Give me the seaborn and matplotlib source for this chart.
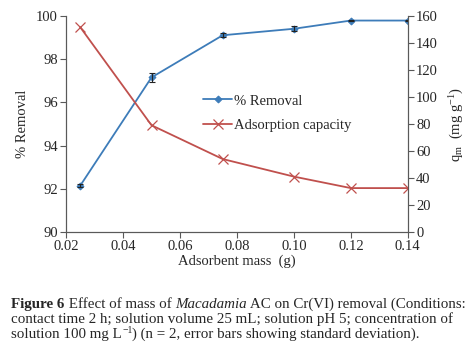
import numpy as np
import pandas as pd
import seaborn as sns
import matplotlib.pyplot as plt

sns.set_style("white")
plt.rcParams['font.family'] = ['Liberation Serif', 'DejaVu Serif']
plt.rcParams['mathtext.fontset'] = 'custom'
plt.rcParams['mathtext.rm'] = 'Liberation Serif'
plt.rcParams['mathtext.it'] = 'Liberation Serif:italic'

# data
mass = [0.025, 0.05, 0.075, 0.10, 0.12, 0.14]
removal = [92.15, 97.15, 99.1, 99.4, 99.78, 99.78]
removal_sd = [0.07, 0.22, 0.09, 0.12, 0.03, 0.03]
capacity = [151.5, 79.0, 54.0, 41.0, 32.5, 32.5]

blue = '#3d7cb9'
red = '#c0504d'
grey = '#595959'

df = pd.DataFrame({'mass': mass, 'removal': removal, 'capacity': capacity})

fig = plt.figure(figsize=(4.72, 3.51), dpi=100)
ax = fig.add_axes([0.140, 0.339, 0.724, 0.616])
ax2 = ax.twinx()

sns.lineplot(data=df, x='mass', y='removal', ax=ax, color=blue, marker='D',
             markersize=3.5, markeredgecolor=blue, lw=1.3, label='% Removal', legend=False)
ax.errorbar(mass, removal, yerr=removal_sd, fmt='none', ecolor='#222222',
            elinewidth=0.8, capsize=2.5, capthick=0.8, zorder=5)
sns.lineplot(data=df, x='mass', y='capacity', ax=ax2, color=red, marker='x',
             markersize=7, markeredgecolor=red, markeredgewidth=0.9, lw=1.3,
             label='Adsorption capacity', legend=False)

ax.set_xlim(0.02, 0.14)
ax.set_ylim(90, 100)
ax2.set_ylim(0, 160)
ax.set_xticks(np.arange(0.02, 0.141, 0.02))
ax.set_xticklabels(['0.02', '0.04', '0.06', '0.08', '0.10', '0.12', '0.14'])
ax.set_yticks(np.arange(90, 101, 2))
ax2.set_yticks(np.arange(0, 161, 20))

for a in (ax, ax2):
    a.spines['top'].set_visible(False)
    for s in ('left', 'right', 'bottom'):
        a.spines[s].set_color(grey)
        a.spines[s].set_linewidth(0.8)
    a.tick_params(length=4, width=0.8, color=grey, labelsize=10.5, pad=2)
ax.tick_params(axis='y', left=True, direction='out')
ax.tick_params(axis='x', bottom=True, direction='out')
ax2.tick_params(axis='y', right=True, direction='out')

ax.set_xlabel('Adsorbent mass  (g)', fontsize=10.5, labelpad=1)
ax.set_ylabel('% Removal', fontsize=10.5, labelpad=5)
ax2.set_ylabel(r'$\mathrm{q_m}$  (mg g$^{-1}$)', fontsize=10.5, labelpad=7)

h1, l1 = ax.get_legend_handles_labels()
h2, l2 = ax2.get_legend_handles_labels()
ax2.legend(h1 + h2, l1 + l2, loc='center left', bbox_to_anchor=(0.415, 0.678),
           bbox_transform=fig.transFigure, frameon=False, fontsize=10.5,
           handlelength=2.0, handletextpad=0.1, borderpad=0, labelspacing=0.75)

# caption, drawn piece by piece to mix bold / italic
fig.canvas.draw()
renderer = fig.canvas.get_renderer()


def put_line(pieces, x0, y0):
    x = x0
    for txt, kw in pieces:
        dy = kw.pop('dy', 0)
        t = fig.text(x, y0 + dy, txt, fontsize=kw.pop('size', 10.8), va='baseline', **kw)
        w = t.get_window_extent(renderer=renderer).width / fig.bbox.width
        x += w


cap_x = 0.024
put_line([('Figure 6', {'weight': 'bold'}),
          (' Effect of mass of ', {}),
          ('Macadamia', {'style': 'italic'}),
          (' AC on Cr(VI) removal (Conditions:', {})], cap_x, 1 - 308 / 351)
put_line([('contact time 2 h; solution volume 25 mL; solution pH 5; concentration of', {})],
         cap_x, 1 - 323 / 351)
put_line([('solution 100 mg L', {}),
          ('\u22121', {'size': 7, 'dy': 0.014}),
          (') (n = 2, error bars showing standard deviation).', {})], cap_x, 1 - 338 / 351)

fig.savefig('out.png', dpi=100)
